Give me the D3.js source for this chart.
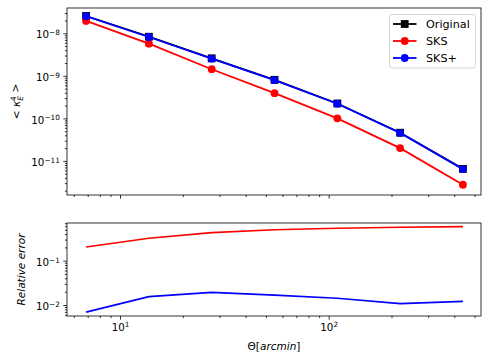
<!DOCTYPE html>
<html><head><meta charset="utf-8">
<script src="https://cdn.jsdelivr.net/npm/d3@7"></script>
<style>
body{margin:0;background:#fff;}
svg{display:block;font-family:"DejaVu Sans",sans-serif;}
</style></head>
<body><svg id="c" width="490" height="362"></svg>
<script>
const theta = [6.875, 13.75, 27.5, 55, 110, 220, 440];
const original = [2.55e-8, 8.3e-9, 2.58e-9, 8.05e-10, 2.24e-10, 4.6e-11, 6.5e-12];
const sks = [1.95e-8, 5.7e-9, 1.43e-9, 3.92e-10, 1.0e-10, 2.0e-11, 2.75e-12];
const sksPlus = [2.53e-8, 8.17e-9, 2.53e-9, 7.91e-10, 2.21e-10, 4.55e-11, 6.42e-12];
const relErrSKS = [0.204, 0.321, 0.43, 0.50, 0.54, 0.57, 0.59];
const relErrSKSPlus = [0.0069, 0.0154, 0.0193, 0.0168, 0.0142, 0.0107, 0.0121];
const seriesNames = ["Original", "SKS", "SKS+"];
const seriesColors = ["#000000", "#ff0000", "#0000ff"];
const xTickVals = [10, 100];
const xTickExp = ["1", "2"];
const topYTicks = [1e-11, 1e-10, 1e-9, 1e-8];
const topYExp = ["\u221211", "\u221210", "\u22129", "\u22128"];
const botYTicks = [1e-2, 1e-1];
const botYExp = ["\u22122", "\u22121"];

const svg = d3.select("#c");
const L = 67, R = 481;
const top1 = 8, bot1 = 195, top2 = 223, bot2 = 316;

const x = d3.scaleLog().domain([5.57, 537]).range([L, R]);
const y1 = d3.scaleLog().domain([1.58e-12, 3.93e-8]).range([bot1, top1]);
const y2 = d3.scaleLog().domain([0.00565, 0.71]).range([bot2, top2]);

function minorTicks(scale) {
  const [a, b] = scale.domain();
  const out = [];
  for (let e = Math.floor(Math.log10(a)); e <= Math.ceil(Math.log10(b)); e++) {
    for (let m = 2; m <= 9; m++) {
      const v = m * Math.pow(10, e);
      if (v >= a && v <= b) out.push(v);
    }
  }
  return out;
}

function supLabel(sel, exps) {
  sel.selectAll("text").each(function(d, i) {
    const t = d3.select(this);
    t.text(null);
    t.append("tspan").text("10");
    t.append("tspan").attr("font-size", "7.3px").attr("dy", "-0.45em").text(exps[i]);
  });
}

function styleAxis(g) {
  g.select(".domain").remove();
  g.selectAll("line").attr("stroke", "#000").attr("stroke-width", 0.8);
  g.selectAll("text").attr("fill", "#000").attr("font-size", "10.3px").attr("font-family", "DejaVu Sans");
}

function panel(yScale, top, bot, showXLabels, yTicks, yExp) {
  const gxMaj = svg.append("g").attr("transform", `translate(0,${bot})`)
    .call(d3.axisBottom(x).tickValues(xTickVals).tickSize(3.7).tickPadding(3.5).tickFormat(showXLabels ? (d => "10") : () => ""));
  styleAxis(gxMaj);
  if (showXLabels) supLabel(gxMaj, xTickExp);
  const gxMin = svg.append("g").attr("transform", `translate(0,${bot})`)
    .call(d3.axisBottom(x).tickValues(minorTicks(x)).tickSize(2.1).tickFormat(() => ""));
  styleAxis(gxMin);
  const gyMaj = svg.append("g").attr("transform", `translate(${L},0)`)
    .call(d3.axisLeft(yScale).tickValues(yTicks).tickSize(3.7).tickPadding(3.5).tickFormat(() => "10"));
  styleAxis(gyMaj);
  supLabel(gyMaj, yExp);
  gyMaj.selectAll("text").attr("dy", "0.45em");
  const gyMin = svg.append("g").attr("transform", `translate(${L},0)`)
    .call(d3.axisLeft(yScale).tickValues(minorTicks(yScale)).tickSize(2.1).tickFormat(() => ""));
  styleAxis(gyMin);
}

const defs = svg.append("defs");
defs.append("clipPath").attr("id", "clip2").append("rect").attr("x", L).attr("y", top2).attr("width", R - L).attr("height", bot2 - top2);

panel(y1, top1, bot1, false, topYTicks, topYExp);
panel(y2, top2, bot2, true, botYTicks, botYExp);

const SQ = 7.8, CR = 3.9, LW = 1.8;

// top panel data
const line1 = d3.line().x(d => x(d[0])).y(d => y1(d[1]));
const g1 = svg.append("g");
const topSeries = [original, sks, sksPlus];
topSeries.forEach((vals, si) => {
  const pts = theta.map((t, i) => [t, vals[i]]);
  g1.append("path").attr("d", line1(pts)).attr("fill", "none")
    .attr("stroke", seriesColors[si]).attr("stroke-width", LW);
  if (si === 0) {
    g1.selectAll(null).data(pts).enter().append("rect")
      .attr("x", d => x(d[0]) - SQ / 2).attr("y", d => y1(d[1]) - SQ / 2)
      .attr("width", SQ).attr("height", SQ).attr("fill", seriesColors[si]);
  } else {
    g1.selectAll(null).data(pts).enter().append("circle")
      .attr("cx", d => x(d[0])).attr("cy", d => y1(d[1])).attr("r", CR)
      .attr("fill", seriesColors[si]);
  }
});

// bottom panel
const line2 = d3.line().x(d => x(d[0])).y(d => y2(d[1]));
const g2 = svg.append("g").attr("clip-path", "url(#clip2)");
[[relErrSKS, 1], [relErrSKSPlus, 2]].forEach(([vals, ci]) => {
  g2.append("path").attr("d", line2(theta.map((t, i) => [t, vals[i]])))
    .attr("fill", "none").attr("stroke", seriesColors[ci]).attr("stroke-width", 1.7);
});

// frames
[[top1, bot1], [top2, bot2]].forEach(([t, b]) => {
  svg.append("rect").attr("x", L).attr("y", t).attr("width", R - L).attr("height", b - t)
    .attr("fill", "none").attr("stroke", "#000").attr("stroke-width", 0.8);
});

// legend
const lg = svg.append("g");
lg.append("rect").attr("x", 389.5).attr("y", 14.5).attr("width", 86).attr("height", 53.5)
  .attr("rx", 2.5).attr("fill", "#fff").attr("fill-opacity", 0.8).attr("stroke", "#cccccc").attr("stroke-width", 0.8);
seriesNames.forEach((name, i) => {
  const yy = 24 + i * 17;
  lg.append("line").attr("x1", 393).attr("x2", 416.5).attr("y1", yy).attr("y2", yy)
    .attr("stroke", seriesColors[i]).attr("stroke-width", LW);
  if (i === 0) {
    lg.append("rect").attr("x", 404.7 - SQ / 2).attr("y", yy - SQ / 2).attr("width", SQ).attr("height", SQ).attr("fill", seriesColors[i]);
  } else {
    lg.append("circle").attr("cx", 404.7).attr("cy", yy).attr("r", CR).attr("fill", seriesColors[i]);
  }
  lg.append("text").attr("x", 426).attr("y", yy).attr("dy", "0.36em")
    .attr("font-size", "11.2px").attr("fill", "#000").text(name);
});

// axis labels
const yl1 = svg.append("text").attr("transform", `translate(20,${(top1 + bot1) / 2}) rotate(-90)`)
  .attr("text-anchor", "middle").attr("font-size", "10.5px").attr("fill", "#000");
yl1.append("tspan").text("< ");
yl1.append("tspan").attr("font-style", "italic").text("\u03ba");
yl1.append("tspan").attr("font-size", "7.5px").attr("dy", "-0.5em").text("4");
yl1.append("tspan").attr("font-size", "7.5px").attr("font-style", "italic").attr("dx", "-0.6em").attr("dy", "0.9em").text("E");
yl1.append("tspan").attr("dy", "-0.4em").text(" >");

svg.append("text").attr("transform", `translate(25,${(top2 + bot2) / 2}) rotate(-90)`)
  .attr("text-anchor", "middle").attr("font-size", "10.5px").attr("font-style", "italic").attr("fill", "#000")
  .text("Relative error");

const xl = svg.append("text").attr("x", (L + R) / 2).attr("y", 350).attr("text-anchor", "middle")
  .attr("font-size", "10.5px").attr("fill", "#000");
xl.append("tspan").text("\u0398[");
xl.append("tspan").attr("font-style", "italic").text("arcmin");
xl.append("tspan").text("]");
</script></body></html>
